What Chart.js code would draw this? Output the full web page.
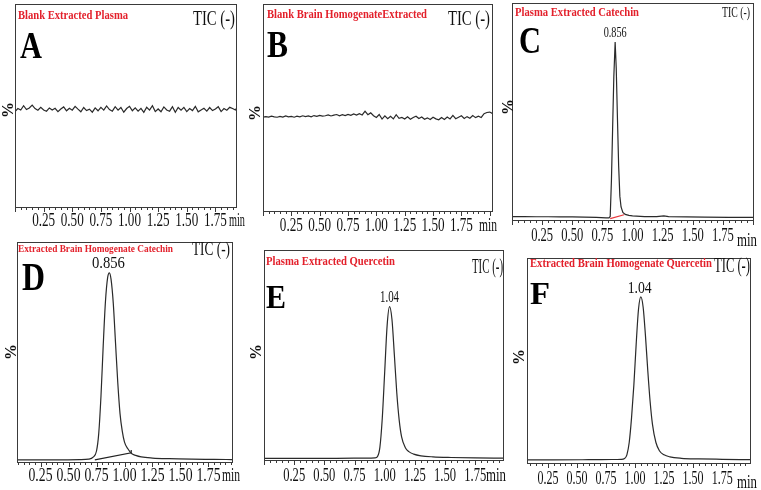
<!DOCTYPE html>
<html>
<head>
<meta charset="utf-8">
<script src="https://cdn.jsdelivr.net/npm/chart.js@4.4.1/dist/chart.umd.min.js"></script>
<style>
  html, body { margin: 0; background: #fff; }
  #wrap { position: relative; width: 761px; height: 490px; overflow: hidden; }
  #wrap canvas { position: absolute; left: 0; top: 0; }
</style>
</head>
<body>
<div id="wrap">
  <canvas id="cA" width="761" height="490"></canvas>
  <canvas id="cB" width="761" height="490"></canvas>
  <canvas id="cC" width="761" height="490"></canvas>
  <canvas id="cD" width="761" height="490"></canvas>
  <canvas id="cE" width="761" height="490"></canvas>
  <canvas id="cF" width="761" height="490"></canvas>
</div>
<script>
// --- data (time in min, intensity in %) ---
const xTickLabels = ['0.25', '0.50', '0.75', '1.00', '1.25', '1.50', '1.75'];

const tNoise = [0.000,0.025,0.050,0.075,0.100,0.125,0.150,0.175,0.200,0.225,
  0.250,0.275,0.300,0.325,0.350,0.375,0.400,0.425,0.450,0.475,
  0.500,0.525,0.550,0.575,0.600,0.625,0.650,0.675,0.700,0.725,
  0.750,0.775,0.800,0.825,0.850,0.875,0.900,0.925,0.950,0.975,
  1.000,1.025,1.050,1.075,1.100,1.125,1.150,1.175,1.200,1.225,
  1.250,1.275,1.300,1.325,1.350,1.375,1.400,1.425,1.450,1.475,
  1.500,1.525,1.550,1.575,1.600,1.625,1.650,1.675,1.700,1.725,
  1.750,1.775,1.800,1.825,1.850,1.875,1.900,1.925,1.950,1.975,
  2.000,2.025];

const yBlankPlasma = [47.0,48.5,47.8,49.9,48.0,48.8,50.2,48.5,47.7,49.1,
  47.8,47.2,48.8,47.8,48.6,47.0,48.3,49.3,47.4,48.6,
  47.7,49.6,48.2,46.9,49.0,47.5,48.2,46.7,48.8,47.4,
  49.1,47.7,49.8,48.0,47.2,49.4,47.7,49.0,46.7,48.5,
  49.6,47.4,48.8,47.2,48.6,46.6,49.1,47.7,49.9,47.0,
  48.3,46.9,49.3,47.8,47.2,49.4,46.7,49.0,47.7,49.1,
  47.0,48.5,47.5,49.6,46.9,47.8,48.6,47.2,49.0,47.5,
  48.3,49.4,47.0,48.5,47.7,49.1,48.5,47.8,49.8,48.0,
  48.6,47.7];

const yBlankBrain = [45.3,45.6,45.4,45.8,45.5,45.3,45.7,45.4,45.9,45.5,
  45.7,45.3,45.8,45.5,46.0,45.6,45.9,45.5,46.1,45.7,
  46.2,45.8,46.0,46.4,45.9,46.3,46.6,46.0,46.5,46.1,
  46.7,46.2,46.9,46.3,47.0,46.4,48.2,46.5,47.4,46.0,
  45.2,46.6,44.4,46.0,44.6,45.8,44.5,46.5,44.8,45.2,
  44.4,45.5,44.3,45.2,45.8,44.7,45.4,44.3,45.0,44.2,
  45.3,44.5,44.1,45.2,44.2,45.4,44.5,46.2,44.6,45.3,
  46.0,44.7,45.6,44.8,46.1,45.1,45.8,45.2,47.0,47.6,
  47.8,47.1];

const tPlasmaCat = [0.00,0.10,0.20,0.30,0.40,0.50,0.60,0.70,0.78,0.805,0.815,0.825,0.835,0.845,0.856,0.865,0.875,0.885,0.895,0.905,0.92,0.94,0.97,1.00,1.10,1.20,1.26,1.30,1.45,1.60,1.80,2.00];
const yPlasmaCat = [1.6,1.6,1.5,1.5,1.4,1.4,1.3,1.2,1.0,1.0,1.6,18,42,66,82,70,47,25,11,6,3.5,2.6,2.1,1.9,1.6,1.6,1.9,1.6,1.4,1.3,1.2,1.2];
const tPlasmaCatBase = [0.815, 0.93];
const yPlasmaCatBase = [0.6, 2.4];

const tBrainCat = [0.00,0.20,0.40,0.60,0.68,0.72,0.75,0.77,0.79,0.81,0.83,0.85,0.865,0.88,0.90,0.92,0.94,0.96,0.98,1.00,1.03,1.06,1.10,1.15,1.25,1.40,1.60,1.80,1.96];
const yBrainCat = [1.0,1.0,1.0,1.1,1.3,2.2,5,13,30,53,73,84,86,83,72,54,36,22,14,9,6,4,3,2.3,1.8,1.5,1.3,1.2,1.1];
const tBrainCatBase = [0.735, 1.06, 1.06];
const yBrainCatBase = [1.0, 4.2, 5.4];

const tPlasmaQue = [0.00,0.30,0.60,0.85,0.92,0.94,0.96,0.98,1.00,1.02,1.04,1.06,1.08,1.10,1.12,1.14,1.17,1.20,1.24,1.30,1.40,1.55,1.75,1.98];
const yPlasmaQue = [0.8,0.8,0.8,0.9,1.0,1.6,6,20,42,64,73,67,50,32,19,11,6,4,2.8,2.0,1.5,1.2,1.0,0.9];

const tBrainQue = [0.07,0.30,0.60,0.80,0.88,0.91,0.93,0.95,0.97,0.99,1.01,1.03,1.05,1.07,1.09,1.11,1.13,1.15,1.18,1.21,1.25,1.30,1.40,1.55,1.75,1.99];
const yBrainQue = [1.5,1.5,1.6,1.7,1.8,2.2,4,10,22,38,58,75,81,76,62,45,30,19,10,6,4,3,2.3,2.0,1.8,1.6];

// --- helpers ---
const pts = (t, y) => t.map((v, i) => ({ x: v, y: y[i] }));
const SERIF = '"Liberation Serif", "Times New Roman", serif';
const RED = '#e3202b';

function txt(ctx, s, x, y, font, color, align, w) {
  ctx.save();
  ctx.font = font;
  ctx.fillStyle = color;
  ctx.textAlign = align || 'left';
  ctx.textBaseline = 'alphabetic';
  ctx.translate(x, y);
  if (w) ctx.scale(w / ctx.measureText(s).width, 1);
  ctx.fillText(s, 0, 0);
  ctx.restore();
}

function makeDecor(p) {
  return {
    id: 'decor' + p.letter,
    afterDatasetsDraw(chart) {
      const ctx = chart.ctx, a = chart.chartArea, xs = chart.scales.x;
      ctx.save();
      ctx.strokeStyle = '#3a3a3a';
      ctx.lineWidth = 1;
      ctx.strokeRect(Math.round(a.left) + 0.5, Math.round(a.top) + 0.5,
        Math.round(a.right - a.left), Math.round(a.bottom - a.top));
      // minor ticks every 0.05 min, longer at labelled values
      ctx.beginPath();
      for (let i = Math.ceil(xs.min / 0.05 - 1e-6); i * 0.05 <= xs.max + 1e-6; i++) {
        const px = Math.round(xs.getPixelForValue(i * 0.05)) + 0.5;
        const len = i % 5 === 0 ? 5 : 3;
        ctx.moveTo(px, a.bottom);
        ctx.lineTo(px, a.bottom + len);
      }
      ctx.stroke();
      ctx.restore();

      xTickLabels.forEach(lab => {
        txt(ctx, lab, xs.getPixelForValue(parseFloat(lab)), p.tickY,
          p.tickFont + 'px ' + SERIF, '#111', 'center', p.tickW);
      });
      txt(ctx, 'min', p.minX, p.minY, p.tickFont + 'px ' + SERIF, '#111', 'left', p.minW);

      txt(ctx, p.title, p.titleX, p.titleY, 'bold ' + p.titleFont + 'px ' + SERIF, RED, 'left', p.titleW);
      txt(ctx, 'TIC (-)', p.ticX, p.ticY, p.ticFont + 'px ' + SERIF, '#111', 'left', p.ticW);
      txt(ctx, p.letter, p.letterX, p.letterY, 'bold ' + p.letterFont + 'px ' + SERIF, '#000', 'left', p.letterW);

      ctx.save();
      ctx.translate(p.pctX, p.pctY);
      ctx.rotate(-Math.PI / 2);
      txt(ctx, '%', 0, 5, 'bold 16px ' + SERIF, '#111', 'center');
      ctx.restore();

      if (p.peakLabel) {
        const px = xs.getPixelForValue(p.peakAt);
        txt(ctx, p.peakLabel, px, p.peakY, p.peakFont + 'px ' + SERIF, '#111', 'center', p.peakW);
      }
    }
  };
}

const panels = [
  { id: 'cA', letter: 'A', box: [15, 4, 236, 207], xMin: 0, xMax: 1.93,
    series: [{ t: tNoise, y: yBlankPlasma }],
    title: 'Blank Extracted Plasma', titleX: 18, titleY: 19, titleFont: 12, titleW: 110,
    ticX: 193, ticY: 25, ticFont: 21, ticW: 42,
    letterX: 20, letterY: 58, letterFont: 37, letterW: 22,
    pctX: 8, pctY: 110,
    tickY: 226, tickFont: 18, tickW: 23, minX: 229, minY: 226, minW: 16 },
  { id: 'cB', letter: 'B', box: [263, 4, 492, 211], xMin: 0, xMax: 2.02,
    series: [{ t: tNoise, y: yBlankBrain }],
    title: 'Blank Brain HomogenateExtracted', titleX: 267, titleY: 18, titleFont: 12, titleW: 160,
    ticX: 448, ticY: 25, ticFont: 21, ticW: 42,
    letterX: 267, letterY: 57, letterFont: 37, letterW: 21,
    pctX: 255, pctY: 113,
    tickY: 231, tickFont: 18, tickW: 23, minX: 479, minY: 231, minW: 18 },
  { id: 'cC', letter: 'C', box: [512, 3, 753, 220], xMin: 0, xMax: 2.0,
    series: [{ t: tPlasmaCat, y: yPlasmaCat, smooth: false },
             { t: tPlasmaCatBase, y: yPlasmaCatBase, color: '#e8383d' }],
    title: 'Plasma Extracted Catechin', titleX: 515, titleY: 16, titleFont: 12, titleW: 124,
    ticX: 722, ticY: 17, ticFont: 14, ticW: 28,
    letterX: 519, letterY: 53, letterFont: 37, letterW: 22,
    pctX: 508, pctY: 107,
    peakLabel: '0.856', peakAt: 0.856, peakY: 37, peakFont: 14, peakW: 23,
    tickY: 241, tickFont: 18, tickW: 22, minX: 737, minY: 246, minW: 20 },
  { id: 'cD', letter: 'D', box: [17, 242, 232, 462], xMin: 0.04, xMax: 1.96,
    series: [{ t: tBrainCat, y: yBrainCat, smooth: true },
             { t: tBrainCatBase, y: yBrainCatBase, color: '#222' }],
    title: 'Extracted Brain Homogenate Catechin', titleX: 18, titleY: 252, titleFont: 11, titleW: 155,
    ticX: 192, ticY: 255, ticFont: 18, ticW: 38,
    letterX: 22, letterY: 290, letterFont: 39, letterW: 23,
    pctX: 11, pctY: 352,
    peakLabel: '0.856', peakAt: 0.856, peakY: 268, peakFont: 16, peakW: 33,
    tickY: 481, tickFont: 18, tickW: 24, minX: 222, minY: 481, minW: 18 },
  { id: 'cE', letter: 'E', box: [264, 250, 503, 460], xMin: 0, xMax: 1.98,
    series: [{ t: tPlasmaQue, y: yPlasmaQue, smooth: true }],
    title: 'Plasma Extracted Quercetin', titleX: 266, titleY: 265, titleFont: 12, titleW: 129,
    ticX: 472, ticY: 273, ticFont: 20, ticW: 31,
    letterX: 266, letterY: 308, letterFont: 33, letterW: 20,
    pctX: 256, pctY: 352,
    peakLabel: '1.04', peakAt: 1.04, peakY: 302, peakFont: 16, peakW: 19,
    tickY: 481, tickFont: 18, tickW: 22, minX: 486, minY: 481, minW: 20 },
  { id: 'cF', letter: 'F', box: [527, 258, 750, 463], xMin: 0.07, xMax: 1.99,
    series: [{ t: tBrainQue, y: yBrainQue, smooth: true }],
    title: 'Extracted Brain Homogenate Quercetin', titleX: 530, titleY: 267, titleFont: 12, titleW: 182,
    ticX: 714, ticY: 272, ticFont: 20, ticW: 36,
    letterX: 530, letterY: 304, letterFont: 31, letterW: 20,
    pctX: 519, pctY: 357,
    peakLabel: '1.04', peakAt: 1.04, peakY: 293, peakFont: 17, peakW: 24,
    tickY: 484, tickFont: 18, tickW: 21, minX: 737, minY: 488, minW: 20 }
];

panels.forEach(p => {
  const [l, t, r, b] = p.box;
  new Chart(document.getElementById(p.id), {
    type: 'line',
    data: {
      datasets: p.series.map(s => ({
        data: pts(s.t, s.y),
        borderColor: s.color || '#2a2a2a',
        borderWidth: 1.2,
        pointRadius: 0,
        fill: false,
        cubicInterpolationMode: s.smooth ? 'monotone' : 'default',
        tension: 0
      }))
    },
    options: {
      responsive: false,
      animation: false,
      events: [],
      layout: { padding: { left: l, top: t, right: 761 - r, bottom: 490 - b } },
      plugins: { legend: { display: false }, tooltip: { enabled: false } },
      scales: {
        x: { type: 'linear', min: p.xMin, max: p.xMax, display: false },
        y: { type: 'linear', min: 0, max: 100, display: false }
      }
    },
    plugins: [makeDecor(p)]
  });
});
</script>
</body>
</html>
